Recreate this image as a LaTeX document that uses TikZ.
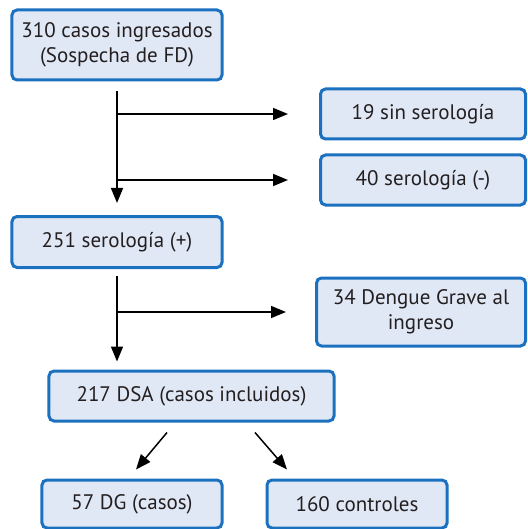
\documentclass[tikz,border=0pt]{standalone}
\usepackage{fontspec}
\setmainfont{PT Sans}
\usetikzlibrary{arrows.meta,calc}
\definecolor{boxfill}{HTML}{E1E8F5}
\definecolor{boxline}{HTML}{1B71C0}
\definecolor{txt}{HTML}{231F20}
\begin{document}
\begin{tikzpicture}[x=1bp,y=-1bp,
  box/.style={draw=boxline,fill=boxfill,line width=3bp,rounded corners=5bp,
    text=txt,font=\fontsize{21bp}{25bp}\selectfont,align=center,inner sep=0pt},
  arr/.style={draw=black,line width=1.5bp,-{Triangle[length=15bp,width=12bp]}}]
\useasboundingbox (0,0) rectangle (528,529);
\node[box,minimum width=210bp,minimum height=70bp] (b1) at (117,45) {310 casos ingresados\\(Sospecha de FD)};
\node[box,minimum width=205bp,minimum height=50bp] (b19) at (423,114) {19 sin serología};
\node[box,minimum width=205bp,minimum height=50bp] (b40) at (423,180) {40 serología (-)};
\node[box,minimum width=210bp,minimum height=51bp] (b251) at (117,242) {251 serología (+)};
\node[box,minimum width=209bp,minimum height=68bp] (b34) at (421,312) {34 Dengue Grave al\\ingreso};
\node[box,minimum width=285bp,minimum height=50bp] (b217) at (191.5,396) {217 DSA (casos incluidos)};
\node[box,minimum width=180bp,minimum height=48bp] (b57) at (132,504) {57 DG (casos)};
\node[box,minimum width=180bp,minimum height=48bp] (b160) at (357,504) {160 controles};
% trunk 1
\coordinate (t1) at ($(b1.south)+(0,10)$);
\coordinate (e1) at ($(b251.north)+(0,-12)$);
\draw[arr] (t1) -- (e1);
\coordinate (j19) at (b1.south |- b19.west);
\coordinate (j40) at (b1.south |- b40.west);
\draw[arr] (j19) -- ($(b19.west)+(-31,0)$);
\draw[arr] (j40) -- ($(b40.west)+(-31,0)$);
% trunk 2
\coordinate (t2) at ($(b251.south)+(0,7)$);
\draw[arr] (t2) -- ($(b217.north)+(-74.5,-8)$);
\coordinate (j34) at (b251.south |- b34.west);
\draw[arr] (j34) -- ($(b34.west)+(-29,0)$);
% split
\draw[arr] ($(b217.south)+(-24.5,10)$) -- ($(b57.north)+(4,-9)$);
\draw[arr] ($(b217.south)+(63.5,10)$) -- ($(b160.north)+(-70,-9)$);
\end{tikzpicture}
\end{document}
